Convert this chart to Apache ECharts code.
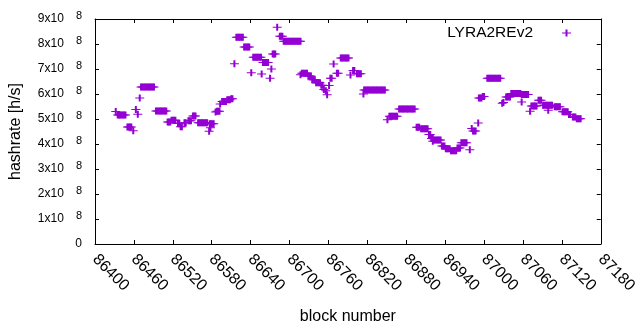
<!DOCTYPE html>
<html>
<head>
<meta charset="utf-8">
<script src="https://cdn.jsdelivr.net/npm/echarts@6/dist/echarts.min.js"></script>
<style>
html,body{margin:0;padding:0;background:#fff;}
#chart{width:640px;height:330px;}
</style>
</head>
<body>
<div id="chart"></div>
<script>
// ---- data (block number, hashrate in units of 1e8 h/s) ----
const seriesName = 'LYRA2REv2';
const xTitle = 'block number';
const yTitle = 'hashrate [h/s]';
const xMin = 86400, xMax = 87180, xStep = 60;
const yMin = 0, yMax = 9, yStep = 1;   // units of 1e8
const yExponent = 8;

const blockNumbers = [
  86432,
  86435,86437,86439,86441,86443,86445,86447,
  86450,86452,86454,86456,
  86459,86463,86466,86469,
  86471,86473,86475,86477,86479,86481,86483,86485,86487,86489,86491,
  86494,86496,86498,86500,86502,86504,86506,86508,86510,
  86512,86514,86516,86518,86520,86522,86524,
  86528,86530,86532,86534,86538,86540,
  86544,86546,86548,86551,86553,86555,
  86559,86561,86563,86565,86567,86569,86571,86573,
  86576,86577,86578,86579,86581,86583,
  86586,86588,86590,86592,86593,
  86596,86598,86600,86602,86604,86606,86608,86610,86612,
  86615,
  86618,86620,86622,86624,86626,86628,
  86630,86632,86634,86636,86638,
  86641,
  86644,86646,86648,86650,86652,86654,86656,
  86657,
  86659,86661,86663,86665,86667,
  86670,86672,
  86674,86676,86678,
  86681,
  86685,86687,86689,
  86691,86693,86695,86697,86699,86701,86703,86705,86707,86709,86711,86713,86715,86717,
  86717,86719,86721,86723,86725,86727,
  86729,86731,86733,86735,86737,86739,
  86741,86743,86745,86747,86749,86751,
  86753,86756,86758,86761,86763,86765,
  86768,86773,86775,
  86779,86781,86783,86785,86787,86789,86791,
  86794,86798,86800,
  86804,86806,86808,86810,86814,
  86815,86817,86819,86821,86823,86825,86827,86829,86831,86833,86835,86837,86839,86841,86843,86845,86847,
  86851,
  86854,86856,86858,86860,86862,86864,86866,
  86869,86871,86873,86875,86877,86879,86881,86883,86885,86887,86889,86891,86893,
  86896,86898,86900,86903,86905,86907,86909,86911,86913,
  86915,86917,86919,86921,86921,
  86923,86925,86927,86929,86931,86933,
  86935,86937,86939,86941,86943,86945,86947,
  86949,86951,86953,86955,86957,86959,86961,86963,
  86965,86967,86969,86971,86973,
  86978,86981,86983,86985,86987,86991,
  86992,86994,86996,86998,87000,
  87005,87007,87009,87011,87013,87015,87017,87019,87021,87023,87025,
  87028,87030,87034,87036,87038,87040,
  87042,87044,87046,87048,87050,87052,87054,87056,
  87058,87058,87060,87062,87064,87066,87068,
  87071,87073,87075,87077,87079,87081,
  87084,87086,87088,
  87091,87093,87095,87097,87099,87099,87101,87103,87105,
  87109,87111,87113,87115,87117,
  87121,87123,87125,87127,87129,
  87131,87133,87137,87139,87141,
  87143,87145,87147,87149
];

const hashrateE8 = [
  5.30,
  5.16,5.16,5.16,5.16,5.16,5.16,5.16,
  4.68,4.68,4.68,4.68,
  4.53,5.38,5.19,5.84,
  6.28,6.28,6.28,6.28,6.28,6.28,6.28,6.28,6.28,6.28,6.28,
  5.32,5.32,5.32,5.32,5.32,5.32,5.32,5.32,5.32,
  4.88,4.88,4.88,4.95,4.95,4.95,4.95,
  4.83,4.83,4.69,4.69,4.85,4.85,
  4.93,4.93,4.93,5.12,5.12,5.12,
  4.85,4.85,4.85,4.85,4.85,4.85,4.85,4.85,
  4.51,4.81,4.65,4.81,4.81,4.81,
  5.28,5.31,5.31,5.31,5.60,
  5.70,5.70,5.70,5.70,5.77,5.77,5.77,5.81,5.81,
  7.21,
  8.27,8.27,8.27,8.27,8.27,8.27,
  7.88,7.88,7.88,7.88,7.88,
  6.85,
  7.47,7.47,7.47,7.47,7.47,7.47,7.47,
  6.80,
  7.26,7.26,7.26,7.26,7.26,
  6.63,7.00,
  7.60,7.60,7.60,
  8.67,
  8.31,8.31,8.31,
  8.11,8.11,8.11,8.11,8.11,8.11,8.11,8.11,8.11,8.11,8.11,8.11,8.11,8.11,
  6.77,6.83,6.83,6.83,6.83,6.83,
  6.72,6.72,6.72,6.57,6.57,6.57,
  6.45,6.45,6.45,6.45,6.35,6.35,
  6.18,6.13,5.97,6.34,6.63,6.63,
  7.20,6.83,6.83,
  7.44,7.44,7.44,7.44,7.44,7.44,7.44,
  6.76,6.94,6.94,
  6.81,6.81,6.81,6.81,6.00,
  6.16,6.16,6.16,6.16,6.16,6.16,6.16,6.16,6.16,6.16,6.16,6.16,6.16,6.16,6.16,6.16,6.16,
  4.97,
  5.11,5.11,5.11,5.11,5.11,5.11,5.11,
  5.40,5.40,5.40,5.40,5.40,5.40,5.40,5.40,5.40,5.40,5.40,5.40,5.40,
  4.67,4.67,4.67,4.61,4.61,4.61,4.61,4.61,4.61,
  4.38,4.38,4.22,4.22,4.11,
  4.16,4.16,4.16,4.16,4.16,4.16,
  3.92,3.92,3.92,3.81,3.81,3.81,3.81,
  3.73,3.73,3.73,3.73,3.73,3.84,3.84,3.84,
  4.05,4.05,4.05,4.05,4.05,
  3.77,4.62,4.52,4.52,4.52,4.84,
  5.84,5.84,5.84,5.90,5.90,
  6.63,6.63,6.63,6.63,6.63,6.63,6.63,6.63,6.63,6.63,6.63,
  5.63,5.66,5.88,5.88,5.88,5.88,
  6.02,6.02,6.02,6.02,6.02,6.02,6.02,6.02,
  5.68,5.98,5.98,5.98,5.98,5.98,5.98,
  5.31,5.52,5.52,5.52,5.52,5.52,
  5.75,5.75,5.75,
  5.55,5.55,5.55,5.55,5.35,5.55,5.55,5.55,5.55,
  5.49,5.49,5.49,5.49,5.49,
  5.29,5.29,5.29,5.29,5.29,
  5.18,5.18,5.08,5.08,5.08,
  5.01,5.01,5.01,5.01
];

// ---- chart ----
const FONT = 'Liberation Sans';
const PURPLE = '#9400d3';
const PLUS = 'path://M0,30H90V40H0Z M35,0H55V70H35Z';

const points = blockNumbers.map((b, i) => [b, hashrateE8[i]]);

const axisCommon = {
  type: 'value',
  axisLine: { show: true, onZero: false, lineStyle: { color: '#000', width: 1 } },
  axisTick: { show: true, inside: true, length: 4, lineStyle: { color: '#000', width: 1 } },
  splitLine: { show: false }
};

const chart = echarts.init(document.getElementById('chart'), null, { renderer: 'canvas' });
chart.setOption({
  animation: false,
  backgroundColor: '#fff',
  textStyle: { fontFamily: FONT },
  grid: { left: 94, top: 19, right: 31, bottom: 85, containLabel: false },
  legend: {
    data: [seriesName],
    right: 64,
    top: 20,
    align: 'right',
    icon: PLUS,
    itemWidth: 9,
    itemHeight: 7,
    itemStyle: { color: PURPLE },
    textStyle: { fontFamily: FONT, fontSize: 15.5, color: '#000', padding: [0, 24, 0, 0] }
  },
  xAxis: [
    Object.assign({}, axisCommon, {
      position: 'bottom',
      min: xMin, max: xMax, interval: xStep,
      name: xTitle,
      nameLocation: 'middle',
      nameGap: 65,
      nameTextStyle: { fontFamily: FONT, fontSize: 16, color: '#000' },
      axisLabel: {
        rotate: -45, fontFamily: FONT, fontSize: 16, color: '#000', margin: 13,
        showMinLabel: true, showMaxLabel: true, hideOverlap: false,
        formatter: v => String(v)
      }
    }),
    Object.assign({}, axisCommon, {
      position: 'top',
      min: xMin, max: xMax, interval: xStep,
      axisLabel: { show: false }
    })
  ],
  yAxis: [
    Object.assign({}, axisCommon, {
      position: 'left',
      min: yMin, max: yMax, interval: yStep,
      name: yTitle,
      nameLocation: 'middle',
      nameGap: 71,
      nameTextStyle: { fontFamily: FONT, fontSize: 16, color: '#000' },
      axisLabel: {
        fontFamily: FONT, fontSize: 12, color: '#000', margin: 13,
        formatter: v => v === 0 ? '{m|0}' : '{m|' + v + 'x10}{s|' + yExponent + '}',
        rich: {
          m: { fontFamily: FONT, fontSize: 12, color: '#000' },
          s: { fontFamily: FONT, fontSize: 11, color: '#000', padding: [0, 0, 6, 12] }
        }
      }
    }),
    Object.assign({}, axisCommon, {
      position: 'right',
      min: yMin, max: yMax, interval: yStep,
      axisLabel: { show: false }
    })
  ],
  series: [{
    name: seriesName,
    type: 'scatter',
    xAxisIndex: 0,
    yAxisIndex: 0,
    symbol: PLUS,
    symbolSize: [9, 7],
    itemStyle: { color: PURPLE, opacity: 1 },
    emphasis: { disabled: true },
    data: points
  }]
});
</script>
</body>
</html>
